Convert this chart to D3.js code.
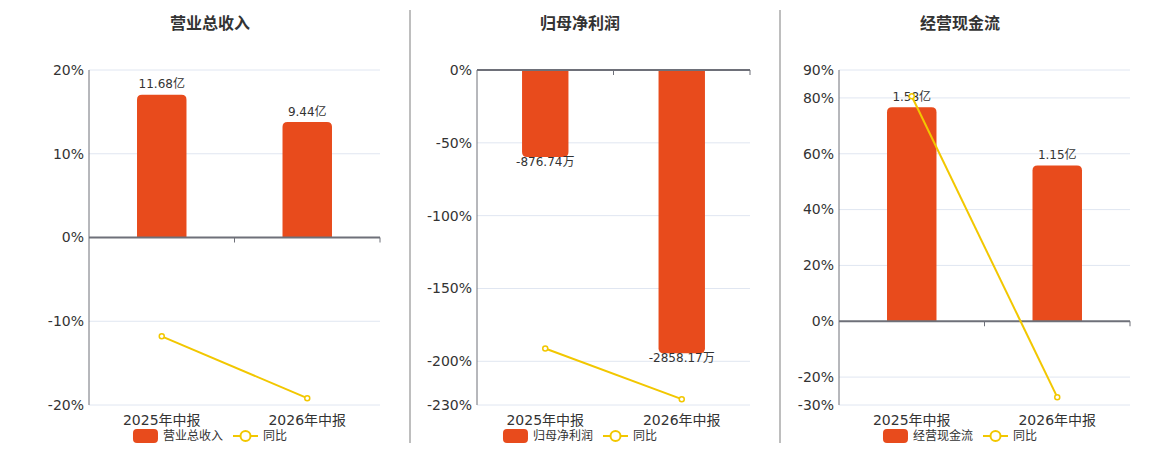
<!DOCTYPE html>
<html><head><meta charset="utf-8">
<script src="https://cdn.jsdelivr.net/npm/d3@7"></script>
<style>
html,body{margin:0;padding:0;background:#fff;}
svg{display:block;font-family:"DejaVu Sans","Noto Sans CJK SC",sans-serif;}
</style></head>
<body>
<svg id="c" width="1160" height="450"></svg>
<script>
const categories = ["2025年中报", "2026年中报"];

const titles = ["营业总收入", "归母净利润", "经营现金流"];
const yoyName = "同比";

const revenue = [11.68, 9.44];
const revenueLabels = ["11.68亿", "9.44亿"];
const revenueYoy = [-11.8, -19.18];
const revenueTicks = [-20, -10, 0, 10, 20];
const revenueBarDomain = [-13.7, 13.7];

const profit = [-876.74, -2858.17];
const profitLabels = ["-876.74万", "-2858.17万"];
const profitYoy = [-191.2, -226.0];
const profitTicks = [-230, -200, -150, -100, -50, 0];
const profitBarDomain = [-3380, 0];

const cash = [1.58, 1.15];
const cashLabels = ["1.58亿", "1.15亿"];
const cashYoy = [80.6, -27.2];
const cashTicks = [-30, -20, 0, 20, 40, 60, 80, 90];
const cashBarDomain = [-0.622, 1.856];

const panels = [
  {title: titles[0], bars: revenue, labels: revenueLabels, yoy: revenueYoy, ticks: revenueTicks, barDomain: revenueBarDomain,
   x0: 89, x1: 380, cx: 210},
  {title: titles[1], bars: profit, labels: profitLabels, yoy: profitYoy, ticks: profitTicks, barDomain: profitBarDomain,
   x0: 477, x1: 750, cx: 580},
  {title: titles[2], bars: cash, labels: cashLabels, yoy: cashYoy, ticks: cashTicks, barDomain: cashBarDomain,
   x0: 839, x1: 1130, cx: 960}
];

const BAR = "#E84B1C", LINE = "#F2C700", GRID = "#E0E6F1", AXIS = "#6E7079", TXT = "#333";
const plotTop = 70, plotBottom = 405;
const svg = d3.select("#c");

// dividers
[410, 780].forEach(x => svg.append("line").attr("x1", x).attr("x2", x).attr("y1", 10).attr("y2", 443)
  .attr("stroke", "#A8A8A8").attr("stroke-width", 1.5));

function barPath(x, w, y0, y1, r) {
  const h = Math.abs(y1 - y0);
  r = Math.min(r, h, w / 2);
  if (y1 < y0) {
    return `M${x},${y0}V${y1 + r}Q${x},${y1} ${x + r},${y1}H${x + w - r}Q${x + w},${y1} ${x + w},${y1 + r}V${y0}Z`;
  } else {
    return `M${x},${y0}V${y1 - r}Q${x},${y1} ${x + r},${y1}H${x + w - r}Q${x + w},${y1} ${x + w},${y1 - r}V${y0}Z`;
  }
}

panels.forEach(p => {
  const g = svg.append("g");
  const x = d3.scaleBand().domain(categories).range([p.x0, p.x1]);
  const y = d3.scaleLinear().domain(d3.extent(p.ticks)).range([plotBottom, plotTop]);
  const yb = d3.scaleLinear().domain(p.barDomain).range([plotBottom, plotTop]);

  g.append("text").attr("x", p.cx).attr("y", 29).attr("text-anchor", "middle")
    .attr("font-size", 16).attr("font-weight", "bold").attr("fill", TXT).text(p.title);

  g.selectAll(".grid").data(p.ticks.filter(t => t !== 0)).join("line")
    .attr("x1", p.x0).attr("x2", p.x1).attr("y1", d => y(d)).attr("y2", d => y(d))
    .attr("stroke", GRID).attr("stroke-width", 1);

  g.selectAll(".yl").data(p.ticks).join("text")
    .attr("x", p.x0 - 5).attr("y", d => y(d)).attr("dy", "0.35em").attr("text-anchor", "end")
    .attr("font-size", 14).attr("fill", TXT).text(d => d + "%");

  g.append("line").attr("x1", p.x0).attr("x2", p.x0).attr("y1", plotTop).attr("y2", plotBottom)
    .attr("stroke", AXIS).attr("stroke-width", 1);

  const bw = x.bandwidth() * 0.34;
  const zb = yb(0);
  g.selectAll(".bar").data(p.bars).join("path")
    .attr("d", (d, i) => barPath(x(categories[i]) + x.bandwidth() / 2 - bw / 2, bw, zb, yb(d), 5))
    .attr("fill", BAR);

  g.selectAll(".bl").data(p.bars).join("text")
    .attr("x", (d, i) => x(categories[i]) + x.bandwidth() / 2)
    .attr("y", d => d >= 0 ? yb(d) - 10.5 : yb(d) + 5)
    .attr("dy", "0.35em").attr("text-anchor", "middle").attr("font-size", 12).attr("fill", TXT)
    .text((d, i) => p.labels[i]);

  const z = y(0);
  g.append("line").attr("x1", p.x0).attr("x2", p.x1).attr("y1", z).attr("y2", z)
    .attr("stroke", AXIS).attr("stroke-width", 2);
  const tickXs = [p.x0 + x.bandwidth(), p.x1];
  g.selectAll(".tk").data(tickXs).join("line")
    .attr("x1", d => d).attr("x2", d => d).attr("y1", z).attr("y2", z + 5)
    .attr("stroke", AXIS).attr("stroke-width", 1);

  g.selectAll(".xl").data(categories).join("text")
    .attr("x", d => x(d) + x.bandwidth() / 2).attr("y", 420).attr("dy", "0.35em")
    .attr("text-anchor", "middle").attr("font-size", 14).attr("fill", TXT).text(d => d);

  const line = d3.line().x((d, i) => x(categories[i]) + x.bandwidth() / 2).y(d => y(d));
  g.append("path").datum(p.yoy).attr("d", line).attr("fill", "none").attr("stroke", LINE).attr("stroke-width", 2);
  g.selectAll(".pt").data(p.yoy).join("circle")
    .attr("cx", (d, i) => x(categories[i]) + x.bandwidth() / 2).attr("cy", d => y(d)).attr("r", 2.5)
    .attr("fill", "#fff").attr("stroke", LINE).attr("stroke-width", 1.5);

  const lg = g.append("g");
  const ly = 436;
  const t1 = lg.append("text").attr("x", 30).attr("y", ly).attr("dy", "0.35em").attr("font-size", 12)
    .attr("fill", TXT).text(p.title);
  const w1 = t1.node().getComputedTextLength();
  lg.insert("rect", "text").attr("x", 0).attr("y", ly - 7).attr("width", 25).attr("height", 14).attr("rx", 4).attr("fill", BAR);
  const lx = 30 + w1 + 10;
  lg.append("line").attr("x1", lx).attr("x2", lx + 25).attr("y1", ly).attr("y2", ly).attr("stroke", LINE).attr("stroke-width", 2);
  lg.append("circle").attr("cx", lx + 12.5).attr("cy", ly).attr("r", 5).attr("fill", "#fff").attr("stroke", LINE).attr("stroke-width", 2);
  const t2 = lg.append("text").attr("x", lx + 30).attr("y", ly).attr("dy", "0.35em").attr("font-size", 12)
    .attr("fill", TXT).text(yoyName);
  const total = lx + 30 + t2.node().getComputedTextLength();
  lg.attr("transform", `translate(${p.cx - total / 2},0)`);
});
</script>
</body></html>
